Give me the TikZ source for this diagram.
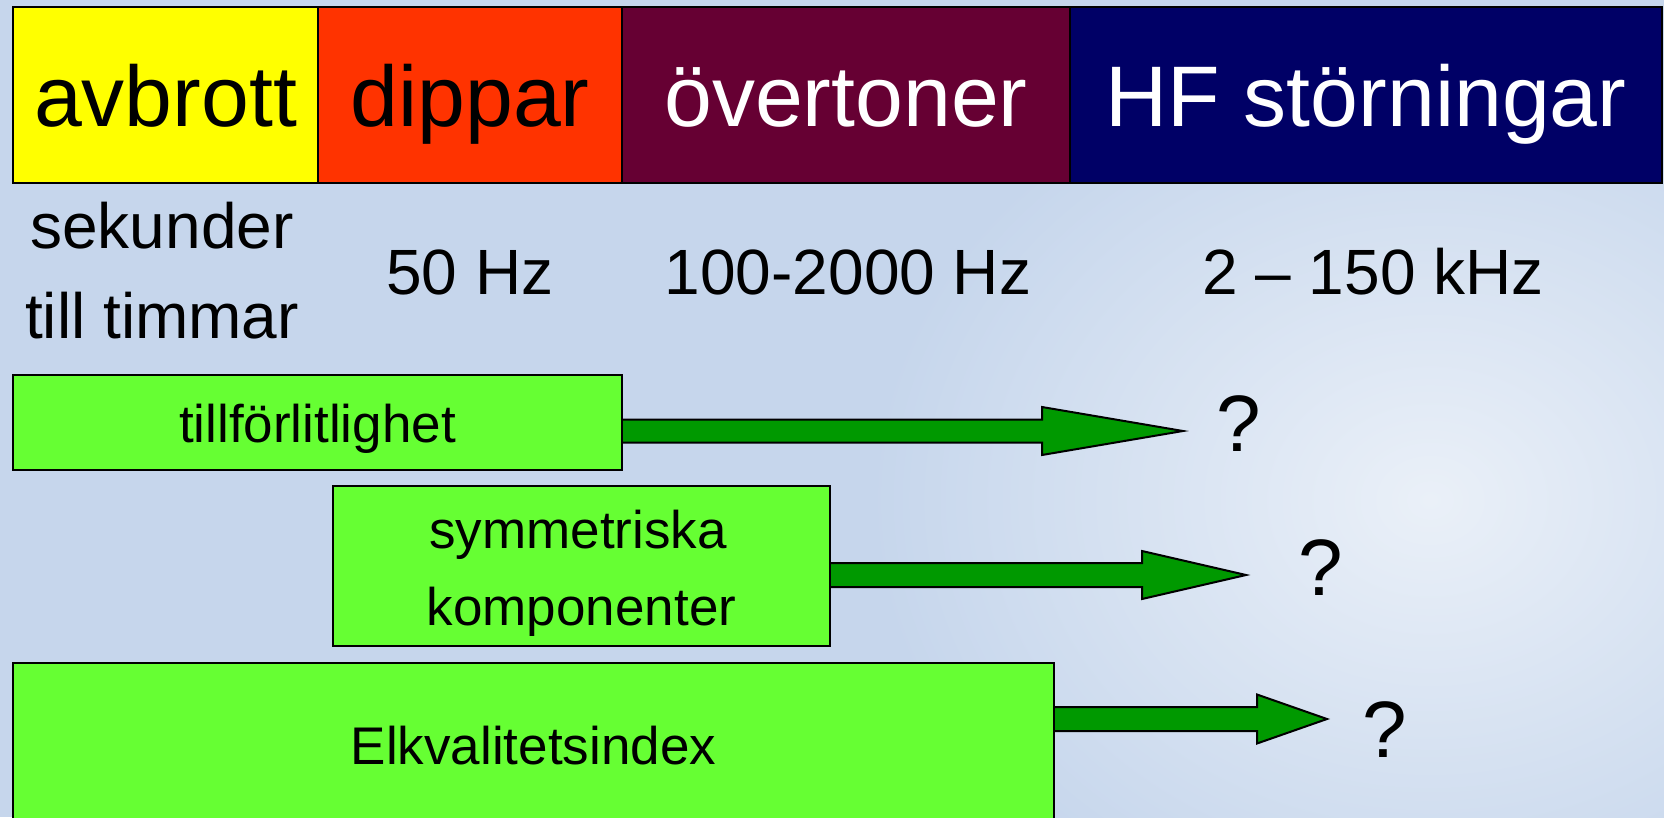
\documentclass[tikz,border=0pt]{standalone}
\usepackage{fontspec}
\setmainfont{Liberation Sans}
\usetikzlibrary{calc}
\definecolor{bgblue}{RGB}{198,214,236}
\definecolor{cloud}{RGB}{234,240,248}
\definecolor{cyel}{RGB}{255,255,0}
\definecolor{cred}{RGB}{255,51,0}
\definecolor{cmar}{RGB}{102,0,51}
\definecolor{cnavy}{RGB}{0,0,102}
\definecolor{boxgreen}{RGB}{102,255,51}
\definecolor{arrgreen}{RGB}{0,153,0}
\tikzset{
  cell/.style={draw=black, line width=2pt, minimum height=176pt, inner sep=0pt,
    text height=80pt, text depth=18pt, font=\fontsize{86}{100}\selectfont},
  gbox/.style={draw=black, line width=2pt, fill=boxgreen, inner sep=0pt,
    text height=50pt, text depth=11pt, font=\fontsize{53}{64}\selectfont},
  midtxt/.style={anchor=base, inner sep=0pt, font=\fontsize{64}{74}\selectfont},
  boxtxt/.style={anchor=base, inner sep=0pt, font=\fontsize{53}{64}\selectfont},
  qmark/.style={anchor=base, inner sep=0pt, font=\fontsize{80}{96}\selectfont},
  blockarr/.style={draw=black, line width=2pt, fill=arrgreen},
}
% #1 start (box edge, on axis), #2 tip, #3 head length, #4 shaft half width, #5 head half width
\newcommand\blkarrow[5]{%
  \draw[blockarr] ($(#1)+(0,-#4)$) -- ($(#2)+(-#3,-#4)$) -- ($(#2)+(-#3,-#5)$) -- (#2)
    -- ($(#2)+(-#3,#5)$) -- ($(#2)+(-#3,#4)$) -- ($(#1)+(0,#4)$);}
\begin{document}
\begin{tikzpicture}[x=1pt,y=-1pt]
\useasboundingbox (0,0) rectangle (1664,817);
\clip (0,0) rectangle (1664,817);
\fill[bgblue] (0,0) rectangle (1664,817);
\shade[inner color=cloud, outer color=bgblue] (1430,500) ellipse [x radius=560, y radius=460];

% top bar
\node[cell, fill=cyel, minimum width=305pt] (c1) at (165.5,95) {avbrott};
\node[cell, fill=cred, minimum width=304pt] (c2) at (470,95) {dippar};
\node[cell, fill=cmar, text=white, minimum width=448pt] (c3) at (846,95) {övertoner};
\node[cell, fill=cnavy, text=white, minimum width=592pt] (c4) at (1366,95) {HF störningar};

% second row
\node[midtxt] (sek) at (162,248) {sekunder};
\node[midtxt] (till) at (162,338) {till timmar};
\node[midtxt] (f50) at (470,294) {50 Hz};
\node[midtxt] (f100) at (848,294) {100-2000 Hz};
\node[midtxt] (fhf) at (1373,294) {2 – 150 kHz};

% boxes
\node[gbox, minimum width=609pt, minimum height=95pt] (b1) at (317.5,422.5) {tillförlitlighet};
\node[gbox, minimum width=497pt, minimum height=160pt] (b2) at (581.5,566) {};
\node[boxtxt] (b2a) at (578,548) {symmetriska};
\node[boxtxt] (b2b) at (581.5,625) {komponenter};
\node[gbox, minimum width=1041pt, minimum height=164pt] (b3) at (533.5,745) {Elkvalitetsindex};

% question marks
\node[qmark] (q1) at (1239,451) {?};
\node[qmark] (q2) at (1321,595) {?};
\node[qmark] (q3) at (1385,757) {?};

% arrows
\coordinate (t1) at (1183,431);
\coordinate (s1) at (b1.east |- t1);
\blkarrow{s1}{t1}{141}{11.5}{24}
\coordinate (t2) at (1246,575);
\coordinate (s2) at (b2.east |- t2);
\blkarrow{s2}{t2}{104}{12}{24}
\coordinate (t3) at (1327,719);
\coordinate (s3) at (b3.east |- t3);
\blkarrow{s3}{t3}{70}{12}{24.5}
\end{tikzpicture}
\end{document}
